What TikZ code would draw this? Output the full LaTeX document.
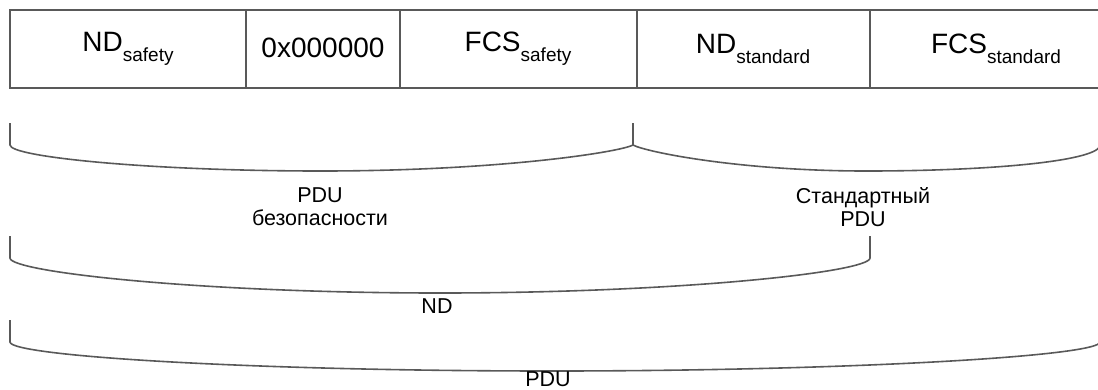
\documentclass[tikz,border=0pt]{standalone}
\usepackage{fontspec}
\setmainfont{Liberation Sans}
\newcommand{\lowtxt}[1]{\raisebox{-0.35em}{\fontsize{19}{19}\selectfont #1}}
\begin{document}
\begin{tikzpicture}[x=1pt, y=-1pt,
  frame line/.style={line width=1.6pt, draw=black!65},
  brace line/.style={line width=1.6pt, draw=black!65},
  field/.style={font=\fontsize{28}{30}\selectfont},
  label/.style={font=\fontsize{21.5}{23}\selectfont, align=center}]
  \useasboundingbox (0,0) rectangle (1098,389);
  \clip (0,0) rectangle (1098,389);

  % Frame
  \draw[frame line] (1120,10) -- (10,10) -- (10,88) -- (1120,88);
  \foreach \x in {246,400,637,870}
    \draw[frame line] (\x,10) -- (\x,88);

  % Fields
  \node[field] (ndsafe) at (128,49) {ND\lowtxt{safety}};
  \node[field] (zero) at (323,48) {0x000000};
  \node[field] (fcssafe) at (518,49) {FCS\lowtxt{safety}};
  \node[field] (ndstd) at (753,49) {ND\lowtxt{standard}};
  \node[field] (fcsstd) at (996,49) {FCS\lowtxt{standard}};

  % Braces
  \draw[brace line] (10,123) -- (10,145) .. controls (10,157) and (150,171) .. (321,171)
    .. controls (500,171) and (620,152) .. (633,145) -- (633,123);
  \draw[brace line] (633,145) .. controls (646,152) and (740,171) .. (866,171)
    .. controls (1000,171) and (1100,160) .. (1100,145) -- (1100,123);
  \draw[brace line] (10,236) -- (10,258) .. controls (10,272) and (200,293) .. (440,293)
    .. controls (680,293) and (870,272) .. (870,258) -- (870,236);
  \draw[brace line] (10,320) -- (10,342) .. controls (10,356) and (250,371) .. (552,371)
    .. controls (850,371) and (1100,356) .. (1100,342) -- (1100,320);

  % Labels
  \node[label] (safepdu) at (320,207) {PDU\\безопасности};
  \node[label] (stdpdu) at (863,207) {Стандартный\\PDU};
  \node[label] (nd) at (437,306) {ND};
  \node[label] (pdu) at (548,379) {PDU};
\end{tikzpicture}
\end{document}
